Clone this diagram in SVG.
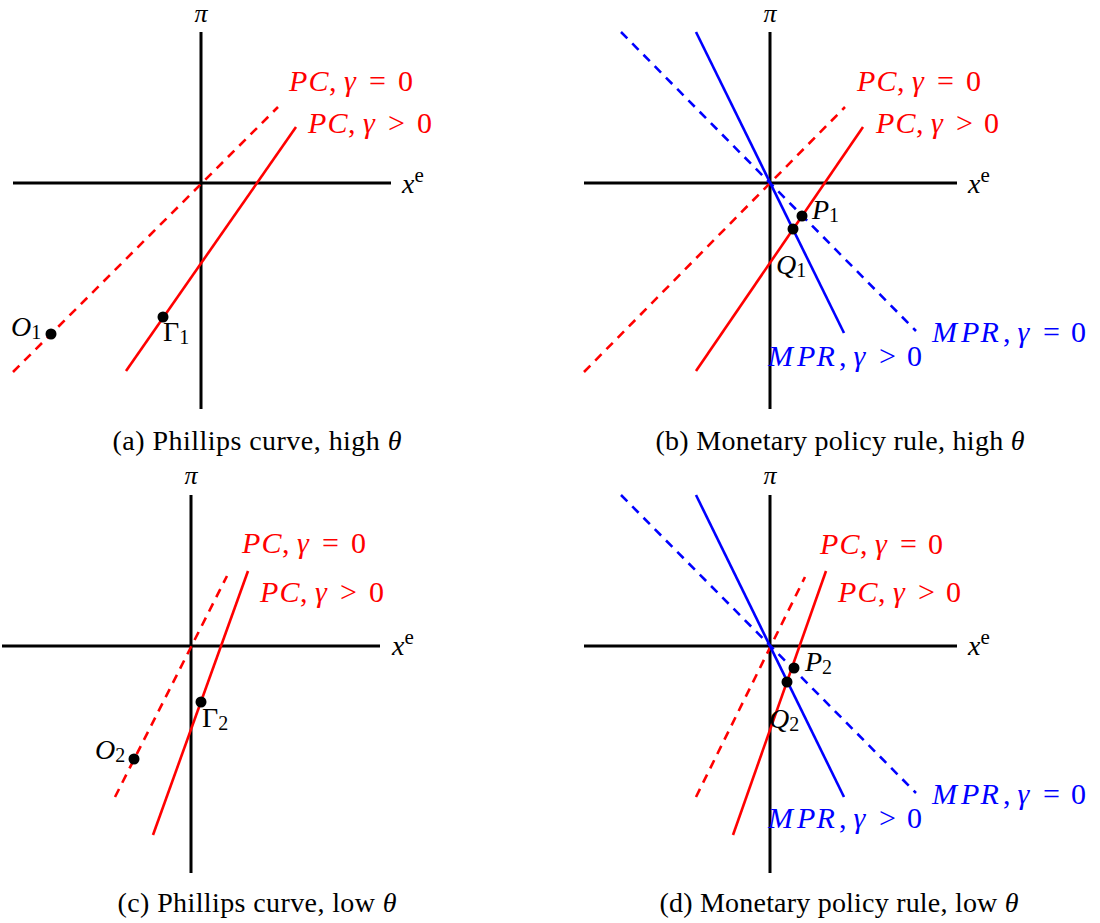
<svg xmlns="http://www.w3.org/2000/svg" width="1100" height="923" viewBox="0 0 1100 923" font-family="'Liberation Serif', 'Times New Roman', 'DejaVu Serif', serif">
<style>
text { font-family: "Liberation Serif", "Times New Roman", "DejaVu Serif", serif; }
.ax { stroke: #000; stroke-width: 3; fill: none; }
.red { stroke: #ff0000; stroke-width: 2.6; fill: none; }
.blue { stroke: #0000ff; stroke-width: 2.6; fill: none; }
.dash { stroke-dasharray: 9 7; }
.dot { fill: #000; }
.m { font-size: 28px; font-style: italic; fill: #000; }
.pi { font-size: 26px; font-style: italic; fill: #000; text-anchor: middle; }
.up { font-size: 28px; font-style: normal; fill: #000; }
.lr { font-size: 30px; fill: #ff0000; }
.lb { font-size: 30px; fill: #0000ff; }
.i { font-style: italic; }
.sub { font-size: 20px; font-style: normal; }
.sup { font-size: 21px; font-style: normal; }
.cap { font-size: 28px; fill: #000; text-anchor: middle; }
</style>
<rect width="1100" height="923" fill="#fff"/>

<g id="panel-a">
  <g id="a-axes">
    <line class="ax" x1="201" y1="32" x2="201" y2="409"/>
    <line class="ax" x1="13" y1="183" x2="391" y2="183"/>
  </g>
  <g id="a-curves">
    <line class="red dash" x1="13" y1="372" x2="278" y2="107"/>
    <line class="red" x1="126" y1="371" x2="296" y2="127"/>
  </g>
  <g id="a-points">
    <circle class="dot" cx="163" cy="317" r="5.5"/>
    <circle class="dot" cx="51" cy="334" r="5.5"/>
  </g>
  <g id="a-labels">
    <text class="pi" x="201" y="22">π</text>
    <text class="m" x="402" y="193">x<tspan class="sup" dy="-11">e</tspan></text>
    <text class="lr" y="91"><tspan class="i" x="289">P</tspan><tspan class="i" x="308.5">C</tspan><tspan x="329">,</tspan><tspan class="i" x="344">γ</tspan><tspan x="369">=</tspan><tspan x="398">0</tspan></text>
    <text class="lr" y="133"><tspan class="i" x="308">P</tspan><tspan class="i" x="327.5">C</tspan><tspan x="348">,</tspan><tspan class="i" x="363">γ</tspan><tspan x="388">&gt;</tspan><tspan x="417">0</tspan></text>
    <text class="m" x="11" y="336">O<tspan class="sub" dy="3">1</tspan></text>
    <text class="up" x="163" y="341">Γ<tspan class="sub" dy="3">1</tspan></text>
    <text class="cap" x="257" y="450" textLength="289" lengthAdjust="spacing">(a) Phillips curve, high <tspan class="i">θ</tspan></text>
  </g>
</g>

<g id="panel-b">
  <g id="b-axes">
    <line class="ax" x1="770" y1="32" x2="770" y2="409"/>
    <line class="ax" x1="584" y1="183" x2="957" y2="183"/>
  </g>
  <g id="b-curves">
    <line class="red dash" x1="584" y1="372" x2="845" y2="107"/>
    <line class="red" x1="696" y1="371" x2="863" y2="127"/>
    <line class="blue dash" x1="621" y1="32" x2="916" y2="331"/>
    <line class="blue" x1="696" y1="32" x2="844" y2="333"/>
  </g>
  <g id="b-points">
    <circle class="dot" cx="802" cy="216" r="5.5"/>
    <circle class="dot" cx="793" cy="229" r="5.5"/>
  </g>
  <g id="b-labels">
    <text class="pi" x="770" y="22">π</text>
    <text class="m" x="968" y="193">x<tspan class="sup" dy="-11">e</tspan></text>
    <text class="lr" y="91"><tspan class="i" x="857">P</tspan><tspan class="i" x="876.5">C</tspan><tspan x="897">,</tspan><tspan class="i" x="912">γ</tspan><tspan x="937">=</tspan><tspan x="966">0</tspan></text>
    <text class="lr" y="133"><tspan class="i" x="876">P</tspan><tspan class="i" x="895.5">C</tspan><tspan x="916">,</tspan><tspan class="i" x="931">γ</tspan><tspan x="956">&gt;</tspan><tspan x="984">0</tspan></text>
    <text class="lb" y="342"><tspan class="i" x="932">M</tspan><tspan class="i" x="961">P</tspan><tspan class="i" x="980.5">R</tspan><tspan x="1003">,</tspan><tspan class="i" x="1017.5">γ</tspan><tspan x="1043">=</tspan><tspan x="1071">0</tspan></text>
    <text class="lb" y="366"><tspan class="i" x="768">M</tspan><tspan class="i" x="797">P</tspan><tspan class="i" x="816.5">R</tspan><tspan x="839">,</tspan><tspan class="i" x="853.5">γ</tspan><tspan x="879">&gt;</tspan><tspan x="907">0</tspan></text>
    <text class="m" x="812" y="219">P<tspan class="sub" dy="3">1</tspan></text>
    <text class="m" x="776" y="274">Q<tspan class="sub" dy="3">1</tspan></text>
    <text class="cap" x="840" y="450" textLength="369" lengthAdjust="spacing">(b) Monetary policy rule, high <tspan class="i">θ</tspan></text>
  </g>
</g>

<g id="panel-c">
  <g id="c-axes">
    <line class="ax" x1="191" y1="495" x2="191" y2="873"/>
    <line class="ax" x1="2" y1="646" x2="380" y2="646"/>
  </g>
  <g id="c-curves">
    <line class="red dash" x1="115" y1="797" x2="227" y2="576"/>
    <line class="red" x1="153" y1="835" x2="248" y2="571"/>
  </g>
  <g id="c-points">
    <circle class="dot" cx="201" cy="702" r="5.5"/>
    <circle class="dot" cx="134" cy="759" r="5.5"/>
  </g>
  <g id="c-labels">
    <text class="pi" x="191" y="484">π</text>
    <text class="m" x="392" y="655">x<tspan class="sup" dy="-11">e</tspan></text>
    <text class="lr" y="553"><tspan class="i" x="242">P</tspan><tspan class="i" x="261.5">C</tspan><tspan x="282">,</tspan><tspan class="i" x="297">γ</tspan><tspan x="322">=</tspan><tspan x="351">0</tspan></text>
    <text class="lr" y="602"><tspan class="i" x="260">P</tspan><tspan class="i" x="279.5">C</tspan><tspan x="300">,</tspan><tspan class="i" x="315">γ</tspan><tspan x="340">&gt;</tspan><tspan x="369">0</tspan></text>
    <text class="m" x="95" y="759">O<tspan class="sub" dy="3">2</tspan></text>
    <text class="up" x="202" y="727">Γ<tspan class="sub" dy="3">2</tspan></text>
    <text class="cap" x="257" y="912" textLength="279" lengthAdjust="spacing">(c) Phillips curve, low <tspan class="i">θ</tspan></text>
  </g>
</g>

<g id="panel-d">
  <g id="d-axes">
    <line class="ax" x1="770" y1="495" x2="770" y2="873"/>
    <line class="ax" x1="584" y1="646" x2="957" y2="646"/>
  </g>
  <g id="d-curves">
    <line class="red dash" x1="696" y1="797" x2="805" y2="577"/>
    <line class="red" x1="733" y1="835" x2="826" y2="571"/>
    <line class="blue dash" x1="621" y1="495" x2="916" y2="793"/>
    <line class="blue" x1="696" y1="495" x2="844" y2="797"/>
  </g>
  <g id="d-points">
    <circle class="dot" cx="794" cy="668" r="5.5"/>
    <circle class="dot" cx="787" cy="682" r="5.5"/>
  </g>
  <g id="d-labels">
    <text class="pi" x="770" y="484">π</text>
    <text class="m" x="968" y="655">x<tspan class="sup" dy="-11">e</tspan></text>
    <text class="lr" y="554"><tspan class="i" x="820">P</tspan><tspan class="i" x="839.5">C</tspan><tspan x="860">,</tspan><tspan class="i" x="875">γ</tspan><tspan x="900">=</tspan><tspan x="928">0</tspan></text>
    <text class="lr" y="602"><tspan class="i" x="838">P</tspan><tspan class="i" x="857.5">C</tspan><tspan x="878">,</tspan><tspan class="i" x="893">γ</tspan><tspan x="918">&gt;</tspan><tspan x="946">0</tspan></text>
    <text class="lb" y="804"><tspan class="i" x="932">M</tspan><tspan class="i" x="961">P</tspan><tspan class="i" x="980.5">R</tspan><tspan x="1003">,</tspan><tspan class="i" x="1017.5">γ</tspan><tspan x="1043">=</tspan><tspan x="1071">0</tspan></text>
    <text class="lb" y="828"><tspan class="i" x="768">M</tspan><tspan class="i" x="797">P</tspan><tspan class="i" x="816.5">R</tspan><tspan x="839">,</tspan><tspan class="i" x="853.5">γ</tspan><tspan x="879">&gt;</tspan><tspan x="907">0</tspan></text>
    <text class="m" x="805" y="671">P<tspan class="sub" dy="3">2</tspan></text>
    <text class="m" x="769" y="728">Q<tspan class="sub" dy="3">2</tspan></text>
    <text class="cap" x="839" y="912" textLength="359" lengthAdjust="spacing">(d) Monetary policy rule, low <tspan class="i">θ</tspan></text>
  </g>
</g>
</svg>
